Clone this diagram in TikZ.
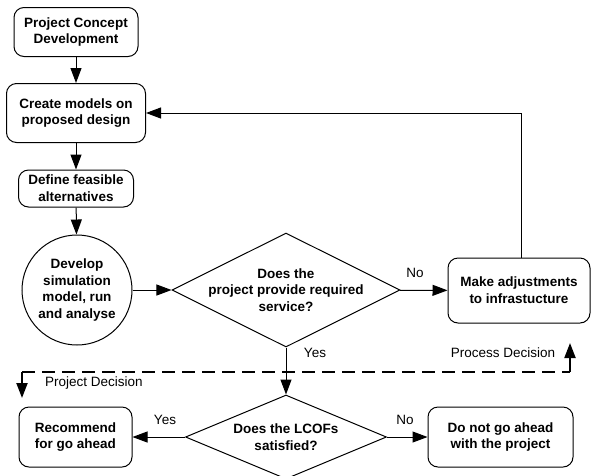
\documentclass[tikz,border=0pt]{standalone}
\usepackage{fontspec}
\setmainfont{Liberation Sans}
\usetikzlibrary{arrows.meta,shapes.geometric,calc}

\begin{document}
\begin{tikzpicture}[x=1pt, y=-1pt,
  box/.style={draw, line width=1pt, rounded corners=10pt, align=center, inner sep=0pt,
    font=\bfseries\fontsize{13.5}{16.7}\selectfont},
  decide/.style={draw, line width=1pt, diamond, align=center, inner sep=-6pt,
    font=\bfseries\fontsize{13.5}{16.7}\selectfont},
  lab/.style={font=\fontsize{13.5}{16.7}\selectfont, inner sep=0pt},
  flow/.style={line width=1pt, -{Triangle[length=15pt, width=11pt]}},
  plain/.style={line width=1pt},
  decline/.style={line width=2pt, dash pattern=on 13pt off 7pt}]

\useasboundingbox (0,0) rectangle (591,475);

\def\xl{76};
\def\xm{286};

% left column
\node[box, minimum width=124pt, minimum height=49pt] (concept) at (\xl,32) {Project Concept\\Development};
\node[box, minimum width=139pt, minimum height=59pt] (models) at (\xl,113) {Create models on\\proposed design};
\node[box, minimum width=115pt, minimum height=37pt] (alter) at (\xl,188.5) {Define feasible\\alternatives};
\node[draw, line width=1pt, circle, minimum size=110pt, inner sep=0pt, align=center,
  font=\bfseries\fontsize{13.5}{16.7}\selectfont] (sim) at (77,290) {Develop\\simulation\\model, run\\and analyse};

% decisions
\node[decide, aspect=2, minimum width=228pt, minimum height=114pt] (serve) at (\xm,290) {Does the\\project provide required\\service?};
\node[decide, aspect=2.4, minimum width=201pt, minimum height=84pt, inner sep=0pt] (lcof) at (\xm,437) {Does the LCOFs\\satisfied?};

% right and bottom boxes
\node[box, minimum width=142pt, minimum height=65pt] (adjust) at (519,290.5) {Make adjustments\\to infrastucture};
\node[box, minimum width=113pt, minimum height=60pt] (go) at (75.5,437) {Recommend\\for go ahead};
\node[box, minimum width=145pt, minimum height=60pt] (stop) at (500.5,437) {Do not go ahead\\with the project};

\draw[flow] (concept) -- (models);
\draw[flow] (models) -- (alter);
\draw[flow] (alter) -- (sim);
\draw[flow] (sim) -- (serve);
\draw[flow] (serve) -- (adjust);
\draw[flow] (serve) -- (lcof);
\draw[flow] (lcof) -- (go);
\draw[flow] (lcof) -- (stop);
\draw[flow] ($(adjust.north)+(2,0)$) |- (models.east);

\node[lab] (no1) at (415,273) {No};
\node[lab] (yes1) at (315,353) {Yes};
\node[lab] (yes2) at (165,420) {Yes};
\node[lab] (no2) at (405,420) {No};

% decision levels
\coordinate (pdl) at (22,398);
\coordinate (pdc) at (22,372);
\coordinate (prc) at (570,372);
\coordinate (prl) at (570,343);
\draw[decline] (pdc) -- (prc);
\draw[flow, line width=2pt] (pdc) -- (pdl);
\draw[flow, line width=2pt] (prc) -- (prl);
\node[lab] (projdec) at (94,383) {Project Decision};
\node[lab] (procdec) at (503,353) {Process Decision};

\end{tikzpicture}
\end{document}
